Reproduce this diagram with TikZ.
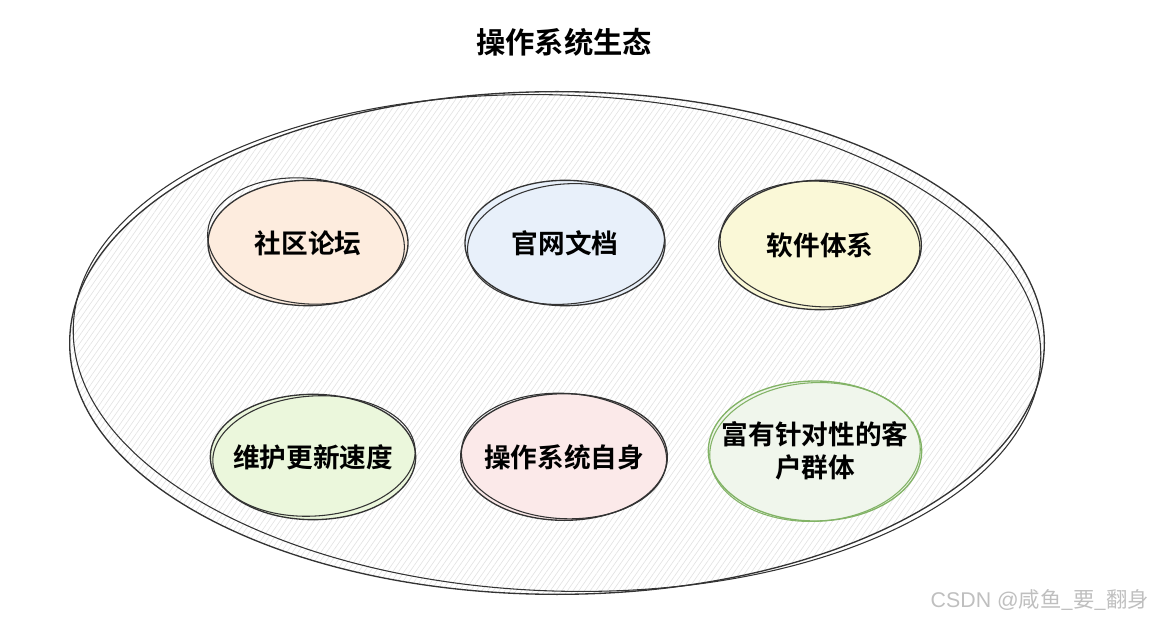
\documentclass[tikz,border=0pt]{standalone}
\usepackage{fontspec}
\setmainfont{Noto Sans CJK SC}
\newfontfamily\cjkbold{Noto Sans CJK SC Bold}
\newfontfamily\wmfont{Liberation Sans}
\usetikzlibrary{shapes.geometric,patterns.meta}
\definecolor{strokegray}{HTML}{333333}
\definecolor{hatchorange}{HTML}{F9C9A0}
\definecolor{hatchblue}{HTML}{C5D9F2}
\definecolor{hatchyellow}{HTML}{F3EE9A}
\definecolor{hatchgreen}{HTML}{CDEBA8}
\definecolor{hatchpink}{HTML}{F5C9C9}
\definecolor{hatchpale}{HTML}{DDEAD5}
\definecolor{greenstroke}{HTML}{82B366}
\tikzset{
  bubble/.style={ellipse, draw=strokegray, line width=1pt,
    minimum width=150pt, minimum height=94pt, inner sep=0pt},
  bubbletext/.style={font=\cjkbold\fontsize{20}{25}\selectfont, align=center, inner sep=0pt},
  rough/.style={draw=strokegray, line width=0.8pt},
}
\begin{document}
\begin{tikzpicture}[x=0.75pt,y=-0.75pt]
\useasboundingbox (0,0) rectangle (1154,620);
% outer ellipse
\node[ellipse, draw=strokegray, line width=1pt, minimum width=731pt, minimum height=377pt,
  pattern={Lines[angle=55,distance=3.5pt,line width=0.5pt]}, pattern color=gray!22] (eco) at (557,343) {};
\draw[rough, rotate around={-2:(557,343)}] (557,343) ellipse [x radius=363pt, y radius=186pt];
% title
\node[font=\cjkbold\fontsize{22}{26}\selectfont] (title) at (564,42) {操作系统生态};
% bubbles
\node[bubble, fill=hatchorange!35] (forum) at (308,243) {};
\draw[rough, rotate around={-6:(306,241)}] (306,241) ellipse [x radius=74pt, y radius=47pt];
\node[bubbletext] (forumtext) at (forum.center) {社区论坛};
\node[bubble, fill=hatchblue!40] (docs) at (565,243) {};
\draw[rough, rotate around={5:(566,244)}] (566,244) ellipse [x radius=74pt, y radius=45pt];
\node[bubbletext] (docstext) at (docs.center) {官网文档};
\node[bubble, fill=hatchyellow!40, minimum width=152pt, minimum height=97pt] (soft) at (820,245) {};
\draw[rough, rotate around={-4:(820,244)}] (820,244) ellipse [x radius=75pt, y radius=47pt];
\node[bubbletext] (softtext) at (soft.center) {软件体系};
\node[bubble, fill=hatchgreen!40, minimum width=154pt] (update) at (313,457) {};
\draw[rough, rotate around={4:(314,456)}] (314,456) ellipse [x radius=76pt, y radius=45pt];
\node[bubbletext] (updatetext) at (update.center) {维护更新速度};
\node[bubble, fill=hatchpink!40, minimum width=155pt, minimum height=95pt] (self) at (564,457) {};
\draw[rough, rotate around={-3:(564,456)}] (564,456) ellipse [x radius=77pt, y radius=47pt];
\node[bubbletext] (selftext) at (self.center) {操作系统自身};
\node[bubble, draw=greenstroke, fill=hatchpale!45, minimum width=160pt, minimum height=105pt] (users) at (815,451) {};
\draw[draw=greenstroke, line width=0.8pt, rotate around={3:(815,452)}] (815,452) ellipse [x radius=79pt, y radius=52pt];
\node[bubbletext] (userstext) at (users.center) {富有针对性的客\\户群体};
% watermark
\node[text=gray!50, font=\fontsize{16}{19}\selectfont] (wm) at (1040,600) {{\wmfont CSDN @}咸鱼\_要\_翻身};
\end{tikzpicture}
\end{document}
